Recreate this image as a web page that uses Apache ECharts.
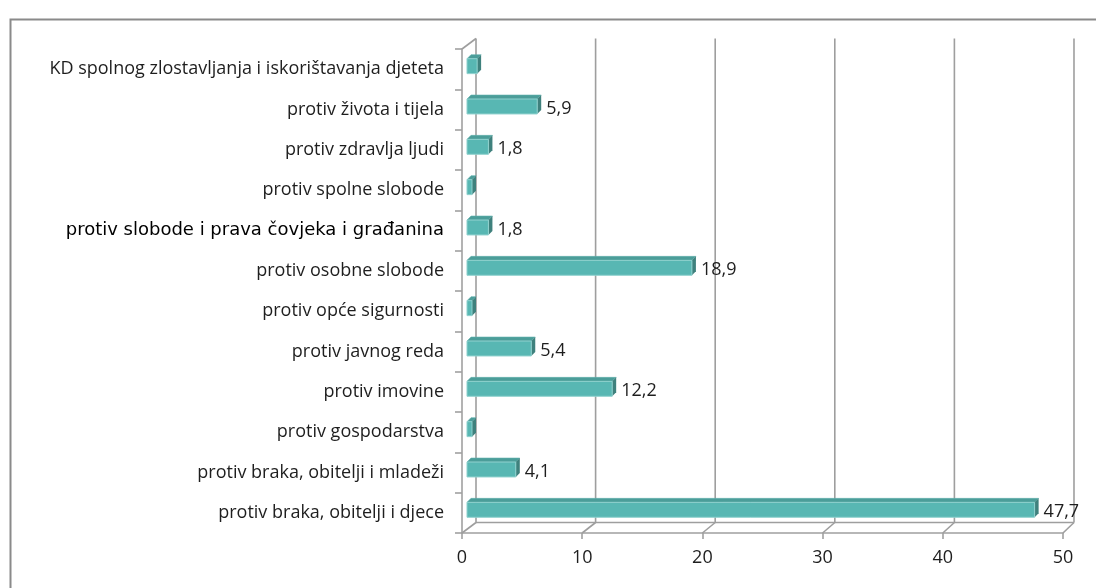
<!DOCTYPE html>
<html>
<head>
<meta charset="utf-8">
<title>Kaznena djela</title>
<script src="https://cdn.jsdelivr.net/npm/echarts@6/dist/echarts.min.js"></script>
<style>
  html, body { margin: 0; padding: 0; background: #fff; }
  #chart { width: 1096px; height: 588px; }
</style>
</head>
<body>
<div id="chart"></div>
<script>
// kategorije odozdo prema gore
const categories = [
  'protiv braka, obitelji i djece',
  'protiv braka, obitelji i mladeži',
  'protiv gospodarstva',
  'protiv imovine',
  'protiv javnog reda',
  'protiv opće sigurnosti',
  'protiv osobne slobode',
  'protiv slobode i prava čovjeka i građanina',
  'protiv spolne slobode',
  'protiv zdravlja ljudi',
  'protiv života i tijela',
  'KD spolnog zlostavljanja i iskorištavanja djeteta'
];
const values = [47.7, 4.1, 0.42, 12.2, 5.4, 0.42, 18.9, 1.8, 0.42, 1.8, 5.9, 0.85];
const ticks = [0, 10, 20, 30, 40, 50];

// 3D "dubina" zidova i stupaca
const WALL_DX = 14, WALL_DY = -10.5;
const BAR_OX = 5, BAR_OY = -3, BAR_D = 4;
const FONT = 'Open Sans';

const fmt = v => String(v).replace('.', ',');

function renderFrame(params, api) {
  const cs = params.coordSys;
  const v = api.value(0);
  const x0 = api.coord([0, 0])[0];
  const xMax = api.coord([ticks[ticks.length - 1], 0])[0];
  const x = api.coord([v, 0])[0];
  const back = xx => x0 + WALL_DX + (xx - x0) * 0.995;
  const top = cs.y, bot = cs.y + cs.height;
  const ls = { stroke: '#9e9e9e', lineWidth: 1.6 };
  const kids = [
    { type: 'line', shape: { x1: back(x), y1: top + WALL_DY, x2: back(x), y2: bot + WALL_DY }, style: ls },
    { type: 'line', shape: { x1: x, y1: bot, x2: back(x), y2: bot + WALL_DY }, style: ls }
  ];
  if (v === 0) {
    kids.push({ type: 'line', shape: { x1: x, y1: top, x2: back(x), y2: top + WALL_DY }, style: ls });
    kids.push({ type: 'line', shape: { x1: back(x), y1: bot + WALL_DY, x2: back(xMax), y2: bot + WALL_DY }, style: ls });
  }
  return { type: 'group', children: kids };
}

function renderBar(params, api) {
  const val = api.value(0);
  const idx = api.value(1);
  const p0 = api.coord([0, idx]);
  const p1 = api.coord([val, idx]);
  const bandH = api.size([0, 1])[1];
  const h = bandH * 0.37;
  const xs = p0[0] + BAR_OX;
  const xe = xs + (p1[0] - p0[0]) * 0.99;
  const yt = p0[1] + BAR_OY - h / 2;
  const yb = yt + h;
  const d = BAR_D;
  const kids = [
    { type: 'polygon', shape: { points: [[xs, yt], [xe, yt], [xe + d, yt - d], [xs + d, yt - d]] },
      style: { fill: '#4b9d99', stroke: '#5fb0ac', lineWidth: 0.6 } },
    { type: 'polygon', shape: { points: [[xe, yt], [xe + d, yt - d], [xe + d, yb - d], [xe, yb]] },
      style: { fill: '#3f817d' } },
    { type: 'rect', shape: { x: xs, y: yt, width: xe - xs, height: h },
      style: { fill: '#58b7b3', stroke: '#8fd1ce', lineWidth: 1 } }
  ];
  if (val >= 1) {
    kids.push({ type: 'text', style: {
      text: fmt(val), x: xe + d + 5, y: p0[1] - 1,
      fill: '#1e1e1e', fontSize: 18, fontFamily: FONT, align: 'left', verticalAlign: 'middle'
    } });
  }
  return { type: 'group', children: kids };
}

const chart = echarts.init(document.getElementById('chart'));
chart.setOption({
  animation: false,
  backgroundColor: '#fff',
  graphic: [{
    type: 'rect', left: 8, top: 17, shape: { width: 1200, height: 700 },
    style: { fill: 'none', stroke: '#8a8a8a', lineWidth: 2 }, silent: true
  }],
  grid: { left: 462, right: 33, top: 49, bottom: 55 },
  xAxis: {
    type: 'value', min: 0, max: 50, interval: 10,
    splitLine: { show: false },
    axisLine: { show: true, lineStyle: { color: '#a0a0a0', width: 1.6 } },
    axisTick: { show: true, length: 6, lineStyle: { color: '#a0a0a0', width: 1.6 } },
    axisLabel: { color: '#1e1e1e', fontSize: 18, fontFamily: FONT, margin: 16 }
  },
  yAxis: {
    type: 'category', data: categories,
    axisLine: { show: true, lineStyle: { color: '#a0a0a0', width: 1.6 } },
    axisTick: { show: true, length: 7, lineStyle: { color: '#a0a0a0', width: 1.6 } },
    axisLabel: {
      margin: 18,
      formatter: v => v === 'protiv slobode i prava čovjeka i građanina' ? '{ar|' + v + '}' : '{ca|' + v + '}',
      rich: {
        ca: { color: '#1e1e1e', fontSize: 18, fontFamily: FONT },
        ar: { color: '#000', fontSize: 18, fontFamily: 'DejaVu Sans' }
      }
    }
  },
  series: [
    { type: 'custom', name: 'okvir', z: 1, renderItem: renderFrame, data: ticks.map(t => [t]), silent: true },
    { type: 'custom', name: 'udio', z: 3, renderItem: renderBar,
      data: values.map((v, i) => [v, i]), encode: { x: 0, y: 1 } }
  ]
});
</script>
</body>
</html>
